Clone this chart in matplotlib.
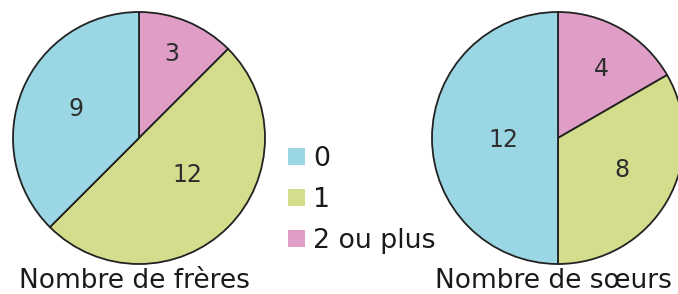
import matplotlib.pyplot as plt
from matplotlib.patches import Patch
import numpy as np

# donnees
categories = ['2 ou plus', '1', '0']
freres = [3, 12, 9]
soeurs = [4, 8, 12]
couleurs = ['#e09ec6', '#d3dd8b', '#9ad6e3']
titres = ['Nombre de frères', 'Nombre de sœurs']

# placement des nombres : fraction du rayon et decalage d'angle (degres)
dist_freres = [0.73, 0.47, 0.56]
decal_freres = [1.8, 9.3, -4.2]
dist_soeurs = [0.66, 0.56, 0.43]
decal_soeurs = [-1.2, 5.3, -0.5]

fig = plt.figure(figsize=(6.78, 2.94), dpi=100)
ax = fig.add_axes([0, 0, 1, 1])

R = 126
centres = [(139, 156), (558, 156)]

for valeurs, dists, decals, (cx, cy), titre in zip([freres, soeurs], [dist_freres, dist_soeurs],
                                                   [decal_freres, decal_soeurs], centres, titres):
    wedges, _ = ax.pie(valeurs, colors=couleurs, startangle=90, counterclock=False,
                       center=(cx, cy), radius=R,
                       wedgeprops=dict(edgecolor='#222222', linewidth=1.3))
    for w, v, d, da in zip(wedges, valeurs, dists, decals):
        ang = np.deg2rad((w.theta1 + w.theta2) / 2 + da)
        ax.text(cx + d * R * np.cos(ang), cy + d * R * np.sin(ang), str(v),
                ha='center', va='center_baseline', fontsize=17, color='#2e2e2e')
    ax.text(cx - 5, 6, titre, ha='center', va='baseline', fontsize=19, color='#1a1a1a')

ax.set_xlim(0, 678)
ax.set_ylim(0, 294)
ax.set_aspect('equal')
ax.axis('off')

handles = [Patch(facecolor=couleurs[i], edgecolor='none') for i in [2, 1, 0]]
labels = [categories[i] for i in [2, 1, 0]]
leg = ax.legend(handles, labels, loc='center left', bbox_to_anchor=(288 / 678, 1 - 200 / 294),
                frameon=False, fontsize=19.3, handlelength=0.64, handleheight=0.64,
                handletextpad=0.3, labelspacing=0.56, borderpad=0, borderaxespad=0)
for t in leg.get_texts():
    t.set_color('#1a1a1a')

fig.savefig('out.png', dpi=100)
